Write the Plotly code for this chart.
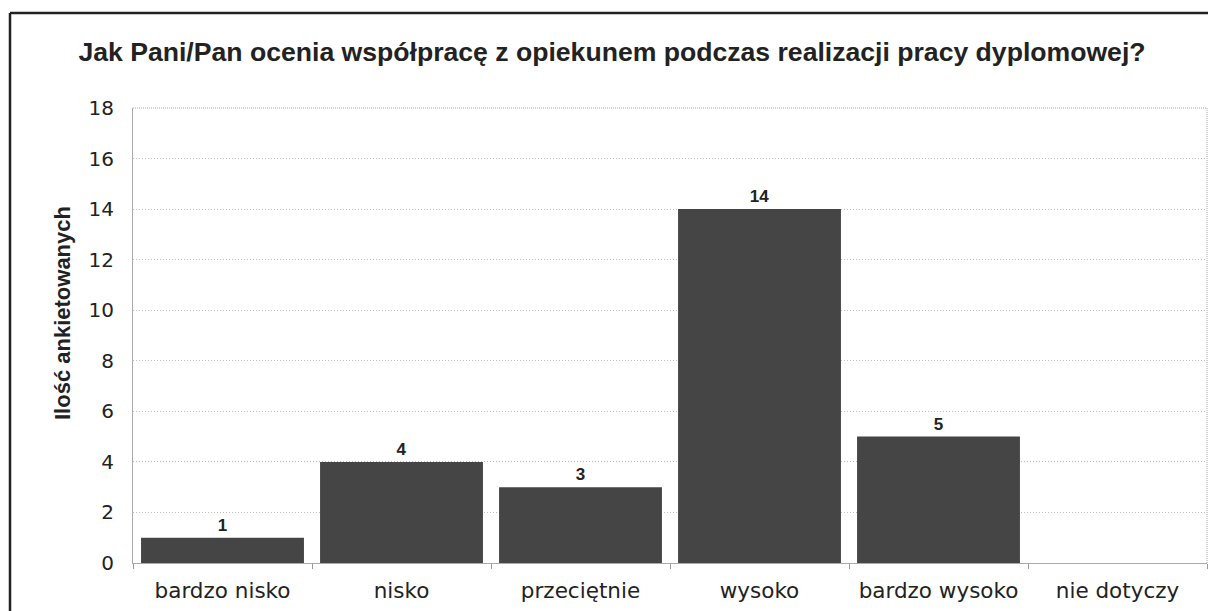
import plotly.graph_objects as go

categories = ["bardzo nisko", "nisko", "przeciętnie", "wysoko", "bardzo wysoko", "nie dotyczy"]
values = [1, 4, 3, 14, 5, 0]
value_labels = ["1", "4", "3", "14", "5", ""]
y_ticks = [0, 2, 4, 6, 8, 10, 12, 14, 16, 18]

title_text = "Jak Pani/Pan ocenia współpracę z opiekunem podczas realizacji pracy dyplomowej?"
y_title = "Ilość ankietowanych"

# page has an 8px body margin; figure is sized to fill the rest
W, H = 1208, 603
ml, mr, mt, mb = 125, 9, 100, 48
pw, ph = W - ml - mr, H - mt - mb

fig = go.Figure()
fig.add_trace(go.Bar(
    x=categories, y=values,
    text=["<b>" + t + "</b>" if t else "" for t in value_labels],
    textposition="outside",
    textfont=dict(family="Liberation Sans, Arial, sans-serif", size=17, color="#222"),
    marker=dict(color="#454545", line=dict(width=0)),
    cliponaxis=False,
))

fig.update_layout(
    width=W, height=H,
    margin=dict(l=ml, r=mr, t=mt, b=mb),
    paper_bgcolor="white", plot_bgcolor="white",
    bargap=0.09,
    showlegend=False,
    title=dict(text="<b>" + title_text + "</b>",
               font=dict(family="Liberation Sans, Arial, sans-serif", size=26.6, color="#222"),
               x=(612 - 8 - ml) / pw, xref="paper", xanchor="center",
               y=1 - (52 - 8) / H, yref="container", yanchor="middle"),
    xaxis=dict(
        type="category",
        tickfont=dict(family="DejaVu Sans, Verdana, sans-serif", size=21.5, color="#222"),
        ticks="outside", tickson="boundaries", ticklen=5, tickcolor="#999",
        ticklabelstandoff=8,
        showline=True, linecolor="#aaa", linewidth=1,
        showgrid=False, mirror=False,
    ),
    yaxis=dict(
        range=[0, 18], tickvals=y_ticks,
        tickfont=dict(family="DejaVu Sans, Verdana, sans-serif", size=20, color="#222"),
        ticks="", ticklabelstandoff=14,
        showline=True, linecolor="#aaa", linewidth=1,
        showgrid=True, gridcolor="#bdbdbd", griddash="1px,2px", gridwidth=1,
        zeroline=False,
    ),
)

# y-axis title as an annotation (placed as in the reference)
fig.add_annotation(
    text="<b>" + y_title + "</b>", textangle=-90,
    xref="paper", yref="paper",
    x=(62 - 8 - ml) / pw, y=1 - (313 - 8 - mt) / ph,
    xanchor="center", yanchor="middle", showarrow=False,
    font=dict(family="Liberation Sans, Arial, sans-serif", size=22, color="#222"),
)

# plot-area border (top and right, dotted)
fig.add_shape(type="line", xref="paper", yref="paper", x0=0, x1=1, y0=1, y1=1,
              line=dict(color="#aaa", width=1, dash="1px,1px"))
fig.add_shape(type="line", xref="paper", yref="paper", x0=1, x1=1, y0=0, y1=1,
              line=dict(color="#aaa", width=1, dash="1px,1px"))

# outer dark frame (left and top)
fx0 = (10 - 8 - ml) / pw
fy1 = 1 + (mt - (13 - 8)) / ph
fig.add_shape(type="line", xref="paper", yref="paper", x0=fx0, x1=fx0, y0=-0.3, y1=fy1,
              line=dict(color="#222", width=2.5))
fig.add_shape(type="line", xref="paper", yref="paper", x0=fx0, x1=1.05, y0=fy1, y1=fy1,
              line=dict(color="#222", width=2.5))

fig.write_html("out.html")
